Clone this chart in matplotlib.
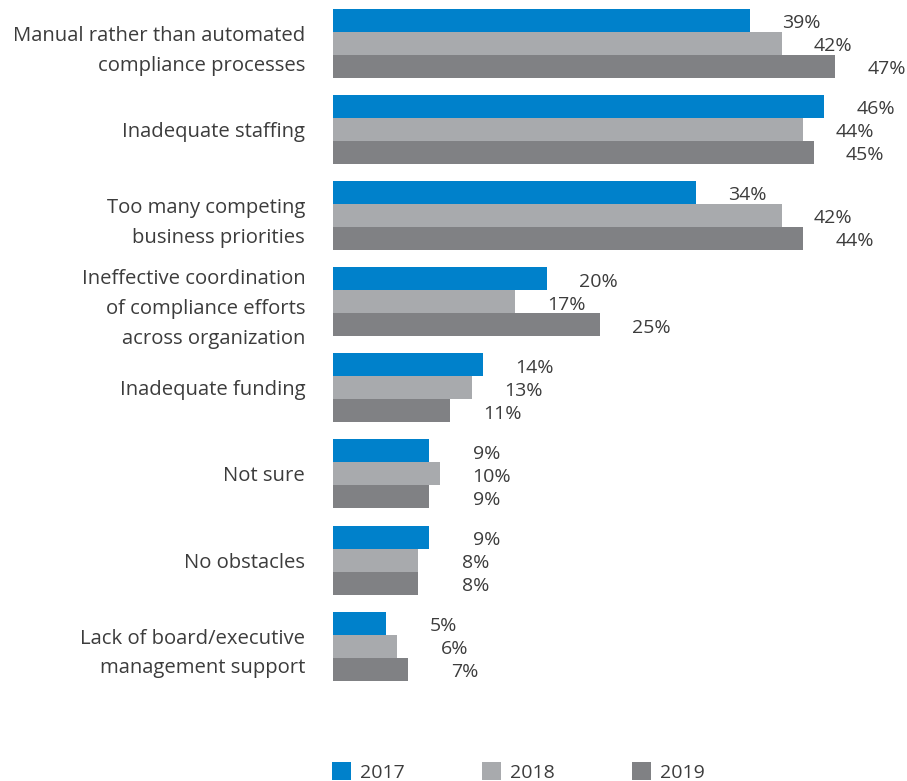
import matplotlib
matplotlib.use("Agg")
import matplotlib.pyplot as plt
import numpy as np
from matplotlib.patches import Patch

# survey obstacles, share of respondents (%)
categories = [
    "Manual rather than automated\ncompliance processes",
    "Inadequate staffing",
    "Too many competing\nbusiness priorities",
    "Ineffective coordination\nof compliance efforts\nacross organization",
    "Inadequate funding",
    "Not sure",
    "No obstacles",
    "Lack of board/executive\nmanagement support",
]
years = ["2017", "2018", "2019"]
values_2017 = [39, 46, 34, 20, 14, 9, 9, 5]
values_2018 = [42, 44, 42, 17, 13, 10, 8, 6]
values_2019 = [47, 45, 44, 25, 11, 9, 8, 7]

colors = ["#0081CB", "#A8AAAD", "#808184"]
text_color = "#3C3C3C"

plt.rcParams['font.family'] = ['Open Sans', 'DejaVu Sans']

fig = plt.figure(figsize=(9.07, 7.81), dpi=100)
ax = fig.add_axes([333 / 907, 0.1175, 534 / 907, 0.882])

y = np.arange(len(categories))
bar_h = 23 / 86.1
series = [values_2017, values_2018, values_2019]

for k, (vals, col) in enumerate(zip(series, colors)):
    pos = y - bar_h + k * bar_h
    bars = ax.barh(pos, vals, height=bar_h, color=col, edgecolor='none')
    for b, v in zip(bars, vals):
        # value labels right-aligned a fixed distance past the bar end
        ax.annotate(f"{v}%", xy=(b.get_width(), b.get_y() + b.get_height() / 2),
                    xytext=(51, -2), textcoords='offset points',
                    ha='right', va='center', fontsize=14, color=text_color,
                    annotation_clip=False)

ax.set_xlim(0, 50)
ax.set_ylim(7.5, -0.5)
ax.set_yticks(y)
ax.set_yticklabels(categories, fontsize=14.6, color=text_color, linespacing=1.65,
                   ha='right')
ax.tick_params(axis='y', length=0, pad=20)
ax.set_xticks([])
for s in ax.spines.values():
    s.set_visible(False)

handles = [Patch(facecolor=c, edgecolor='none', label=yr) for c, yr in zip(colors, years)]
fig.legend(handles=handles, loc='lower left', bbox_to_anchor=(332 / 907, -0.001),
           ncol=3, frameon=False, fontsize=14, handlelength=1.0, handleheight=1.0,
           handletextpad=0.45, columnspacing=3.95, borderpad=0, borderaxespad=0,
           labelcolor=text_color)

fig.savefig("out.png", dpi=100)
